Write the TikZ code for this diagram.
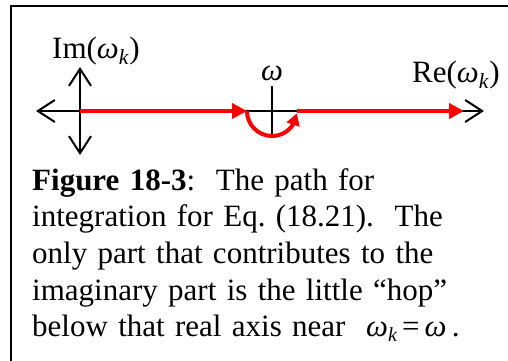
\documentclass[tikz,border=0pt]{standalone}
\usepackage{fontspec}
\setmainfont{Liberation Serif}
\usetikzlibrary{arrows.meta,bending}

\newcommand{\wk}{\textit{ω}\textsubscript{\textit{k}}}

\begin{document}
\begin{tikzpicture}[x=1pt,y=1pt,
  axis/.style={line width=2pt,arrows={Straight Barb[length=17pt,width=22pt]-Straight Barb[length=17pt,width=22pt]}},
  hop/.style={red,line width=4pt,-{Triangle[length=15pt,width=15pt]}},
  lbl/.style={inner sep=0pt,anchor=base west,font=\fontsize{31}{36}\selectfont}]

\useasboundingbox (0,0) rectangle (508,360);
\draw[line width=2pt] (11,-20) rectangle (530,354);

% axes
\coordinate (left) at (36,249);
\coordinate (right) at (484,249);
\coordinate (top) at (80,293);
\coordinate (bottom) at (80,205);
\coordinate (origin) at (80,249);
\coordinate (hopin) at (247,249);
\coordinate (hopout) at (297,249);
\coordinate (ticktop) at (272,274);
\coordinate (tickbot) at (272,223);
\coordinate (pathend) at (464,249);

\draw[axis] (left) -- (right);
\draw[axis] (bottom) -- (top);
\draw[line width=2pt] (tickbot) -- (ticktop);

% path of integration
\draw[hop] (origin) -- (hopin);
\draw[red,line width=4pt,-{Triangle[length=12pt,width=13pt,flex]}] (hopin) arc[start angle=180,end angle=355,radius=25pt];
\draw[hop] (hopout) -- (pathend);

\node[lbl] (im) at (52,302) {Im(\wk)};
\node[lbl] (re) at (412,278) {Re(\wk)};
\node[lbl,anchor=base] (w) at (272,280) {\textit{ω}};

\node[lbl,font=\fontsize{31}{36.7}\selectfont\frenchspacing,text width=470pt,align=left] (caption) at (32,170)
  {\textbf{Figure 18-3}:\ \ The path for\\
   integration for Eq. (18.21).\ \ The\\
   only part that contributes to the\\
   imaginary part is the little “hop”\\
   below that real axis near \ \textit{ω}\raisebox{-5pt}{\fontsize{20}{20}\selectfont\textit{k}}\kern5pt=\kern5pt\textit{ω}\,.};

\end{tikzpicture}
\end{document}
